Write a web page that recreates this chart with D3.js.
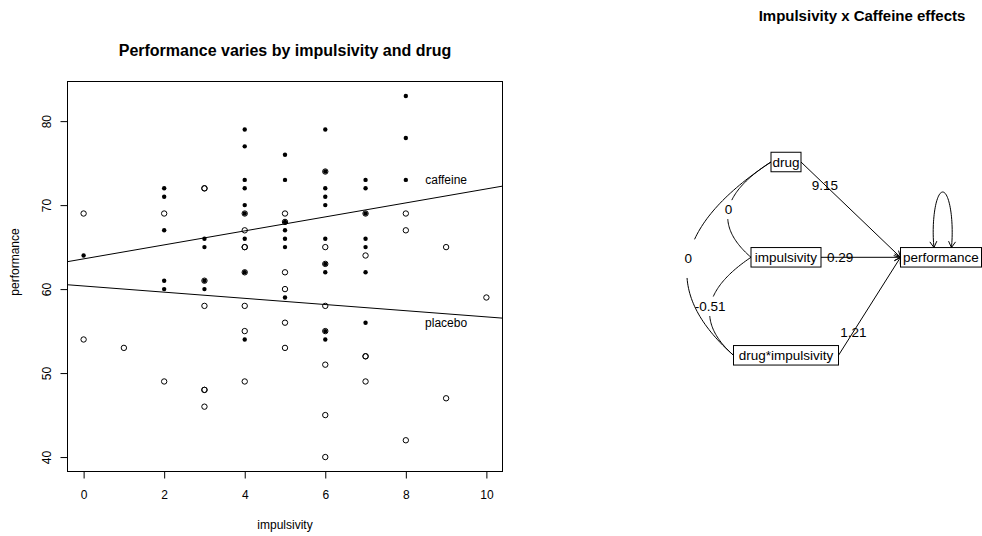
<!DOCTYPE html>
<html>
<head>
<meta charset="utf-8">
<script src="https://cdn.jsdelivr.net/npm/d3@7"></script>
<style>
  body { margin: 0; background: #fff; }
  svg text { font-family: "Liberation Sans", Arial, Helvetica, sans-serif; fill: #000; }
</style>
</head>
<body>
<div id="container"></div>
<script>
// Données du nuage de points (impulsivité, performance)
const caffeineX = [0, 2, 2, 2, 2, 2, 3, 3, 3, 3, 4, 4, 4, 4, 4, 4, 4, 4, 4,
  5, 5, 5, 5, 5, 5, 5, 6, 6, 6, 6, 6, 6, 6, 6, 6, 6, 7, 7, 7, 7, 7, 7, 7, 8, 8, 8];
const caffeineY = [64, 72, 71, 67, 61, 60, 66, 65, 61, 60, 79, 77, 73, 72, 70, 69, 66, 62, 54,
  76, 73, 68, 67, 66, 65, 59, 79, 74, 72, 71, 70, 66, 63, 62, 55, 54, 73, 72, 69, 66, 65, 62, 56, 83, 78, 73];
const placeboX = [0, 0, 1, 2, 2, 3, 3, 3, 3, 3, 3, 3, 4, 4, 4, 4, 4, 4, 4, 4,
  5, 5, 5, 5, 5, 5, 6, 6, 6, 6, 6, 6, 6, 6, 7, 7, 7, 7, 7, 8, 8, 8, 9, 9, 10];
const placeboY = [69, 54, 53, 69, 49, 72, 72, 61, 58, 48, 48, 46, 69, 67, 65, 65, 62, 58, 55, 49,
  69, 68, 62, 60, 56, 53, 74, 65, 63, 58, 55, 51, 45, 40, 69, 64, 52, 52, 49, 69, 67, 42, 65, 47, 59];

// Droites de régression
const lineNames = ["caffeine", "placebo"];
const lineIntercepts = [63.6, 60.37];
const lineSlopes = [0.833, -0.368];
const lineLabelX = [9, 9];
const lineLabelY = [73, 56];

const xTicks = [0, 2, 4, 6, 8, 10];
const yTicks = [40, 50, 60, 70, 80];

// Diagramme des chemins
const semNodes = ["drug", "impulsivity", "drug*impulsivity", "performance"];
const pathFrom = [0, 1, 2];
const pathTo = [3, 3, 3];
const pathCoefs = ["9.15", "0.29", "1.21"];
const covFrom = [0, 0, 1];
const covTo = [1, 2, 2];
const covValues = ["0", "0", "-0.51"];

// Dimensions
const width = 982;
const height = 536;
const plot = { left: 67.5, right: 502.5, top: 81.5, bottom: 471.5 };

// Disposition du diagramme
const nodeX = [786, 786, 786, 941];
const nodeY = [162, 257.3, 355.3, 257.3];
const nodeW = [30, 70, 105, 81];
const nodeH = 19.5;
const covBulge = [32.5, 64, 32];

const svg = d3.select("#container")
    .append("svg")
    .attr("width", width)
    .attr("height", height);

// Échelles
const xScale = d3.scaleLinear().domain([-0.4, 10.4]).range([plot.left, plot.right]);
const yScale = d3.scaleLinear().domain([38.28, 84.72]).range([plot.bottom, plot.top]);

// Titre
svg.append("text")
    .attr("x", (plot.left + plot.right) / 2)
    .attr("y", 55.5)
    .attr("text-anchor", "middle")
    .style("font-size", "16px")
    .style("font-weight", "bold")
    .text("Performance varies by impulsivity and drug");

// Axes
const xAxis = svg.append("g")
    .attr("transform", `translate(0,${plot.bottom})`)
    .call(d3.axisBottom(xScale).tickValues(xTicks).tickSize(7).tickFormat(d3.format("d")));
xAxis.select(".domain").remove();
xAxis.selectAll("text").attr("y", 27).attr("dy", 0).style("font-size", "12px");

const yAxis = svg.append("g")
    .attr("transform", `translate(${plot.left},0)`)
    .call(d3.axisLeft(yScale).tickValues(yTicks).tickSize(7).tickFormat(d3.format("d")));
yAxis.select(".domain").remove();
yAxis.selectAll("text")
    .attr("x", 0).attr("dy", 0)
    .attr("text-anchor", "middle")
    .attr("transform", "translate(-17,0) rotate(-90)")
    .style("font-size", "12px");

svg.append("text")
    .attr("x", (plot.left + plot.right) / 2)
    .attr("y", 529)
    .attr("text-anchor", "middle")
    .style("font-size", "12px")
    .text("impulsivity");

svg.append("text")
    .attr("transform", "translate(19,262) rotate(-90)")
    .attr("text-anchor", "middle")
    .style("font-size", "12px")
    .text("performance");

// Cadre
svg.append("rect")
    .attr("x", plot.left)
    .attr("y", plot.top)
    .attr("width", plot.right - plot.left)
    .attr("height", plot.bottom - plot.top)
    .attr("fill", "none")
    .attr("stroke", "#000");

// Points
svg.selectAll(".placebo")
    .data(placeboX.map((x, i) => [x, placeboY[i]]))
    .enter()
    .append("circle")
    .attr("class", "placebo")
    .attr("cx", d => xScale(d[0]))
    .attr("cy", d => yScale(d[1]))
    .attr("r", 2.7)
    .attr("fill", "none")
    .attr("stroke", "#000");

svg.selectAll(".caffeine")
    .data(caffeineX.map((x, i) => [x, caffeineY[i]]))
    .enter()
    .append("circle")
    .attr("class", "caffeine")
    .attr("cx", d => xScale(d[0]))
    .attr("cy", d => yScale(d[1]))
    .attr("r", 2.2)
    .attr("fill", "#000");

// Droites (coupées au cadre)
svg.append("clipPath").attr("id", "clip")
    .append("rect")
    .attr("x", plot.left).attr("y", plot.top)
    .attr("width", plot.right - plot.left).attr("height", plot.bottom - plot.top);

const xDom = xScale.domain();
lineNames.forEach((name, i) => {
    svg.append("line")
        .attr("clip-path", "url(#clip)")
        .attr("x1", xScale(xDom[0]))
        .attr("y1", yScale(lineIntercepts[i] + lineSlopes[i] * xDom[0]))
        .attr("x2", xScale(xDom[1]))
        .attr("y2", yScale(lineIntercepts[i] + lineSlopes[i] * xDom[1]))
        .attr("stroke", "#000");
    svg.append("text")
        .attr("x", xScale(lineLabelX[i]))
        .attr("y", yScale(lineLabelY[i]))
        .attr("dy", "0.35em")
        .attr("text-anchor", "middle")
        .style("font-size", "12px")
        .text(name);
});

// ---- Diagramme ----
const dia = svg.append("g");

dia.append("text")
    .attr("x", 862)
    .attr("y", 21)
    .attr("text-anchor", "middle")
    .style("font-size", "15px")
    .style("font-weight", "bold")
    .text("Impulsivity x Caffeine effects");

function arrowHead(x, y, angle) {
    const len = 7, spread = Math.PI / 6;
    const p = d3.path();
    p.moveTo(x - len * Math.cos(angle - spread), y - len * Math.sin(angle - spread));
    p.lineTo(x, y);
    p.lineTo(x - len * Math.cos(angle + spread), y - len * Math.sin(angle + spread));
    dia.append("path").attr("d", p.toString()).attr("fill", "none").attr("stroke", "#000");
}

const diaLabel = (x, y, txt) => dia.append("text")
    .attr("x", x).attr("y", y)
    .attr("dy", "0.35em")
    .attr("text-anchor", "middle")
    .style("font-size", "13.5px")
    .text(txt);

// Chemins dirigés
pathFrom.forEach((f, i) => {
    const t = pathTo[i];
    const x1 = nodeX[f] + nodeW[f] / 2, y1 = nodeY[f];
    const x2 = nodeX[t] - nodeW[t] / 2, y2 = nodeY[t];
    dia.append("line")
        .attr("x1", x1).attr("y1", y1).attr("x2", x2).attr("y2", y2)
        .attr("stroke", "#000");
    arrowHead(x2, y2, Math.atan2(y2 - y1, x2 - x1));
    diaLabel(x1 + 0.24 * (x2 - x1), y1 + 0.24 * (y2 - y1), pathCoefs[i]);
});

// Covariances (courbes avec trou pour l'étiquette)
const curveLine = d3.line();
function quadPoint(p0, c, p2, t) {
    const u = 1 - t;
    return [u * u * p0[0] + 2 * u * t * c[0] + t * t * p2[0],
            u * u * p0[1] + 2 * u * t * c[1] + t * t * p2[1]];
}
covFrom.forEach((f, i) => {
    const t = covTo[i];
    const p0 = [nodeX[f] - nodeW[f] / 2, nodeY[f]];
    const p2 = [nodeX[t] - nodeW[t] / 2, nodeY[t]];
    const mid = [(p0[0] + p2[0]) / 2, (p0[1] + p2[1]) / 2];
    const c = [mid[0] - 2 * covBulge[i], mid[1]];
    const gap = 0.1;
    [[0, 0.5 - gap], [0.5 + gap, 1]].forEach(([a, b]) => {
        const pts = d3.range(0, 31).map(k => quadPoint(p0, c, p2, a + (b - a) * k / 30));
        dia.append("path").attr("d", curveLine(pts)).attr("fill", "none").attr("stroke", "#000");
    });
    const apex = quadPoint(p0, c, p2, 0.5);
    diaLabel(apex[0], apex[1], covValues[i]);
});

// Variance résiduelle (boucle)
const loop = { cx: 942.7, cy: 232, rx: 9.5, ry: 40 };
const a0 = Math.asin((loop.cy - (nodeY[3] - nodeH / 2)) / loop.ry);
const loopPts = d3.range(0, 61).map(k => {
    const th = a0 + (Math.PI - 2 * a0) * k / 60;
    return [loop.cx + loop.rx * Math.cos(th), loop.cy - loop.ry * Math.sin(th)];
});
dia.append("path").attr("d", curveLine(loopPts)).attr("fill", "none").attr("stroke", "#000");
{
    const thL = Math.PI - a0, thR = a0;
    // pointes vers le bas, dans le sens du tracé
    arrowHead(loopPts[60][0], loopPts[60][1],
        Math.atan2(-loop.ry * Math.cos(thL), -loop.rx * Math.sin(thL)));
    arrowHead(loopPts[0][0], loopPts[0][1],
        Math.atan2(loop.ry * Math.cos(thR), loop.rx * Math.sin(thR)));
}

// Boîtes
semNodes.forEach((name, i) => {
    dia.append("rect")
        .attr("x", nodeX[i] - nodeW[i] / 2)
        .attr("y", nodeY[i] - nodeH / 2)
        .attr("width", nodeW[i])
        .attr("height", nodeH)
        .attr("fill", "none")
        .attr("stroke", "#000");
    diaLabel(nodeX[i], nodeY[i], name);
});
</script>
</body>
</html>
